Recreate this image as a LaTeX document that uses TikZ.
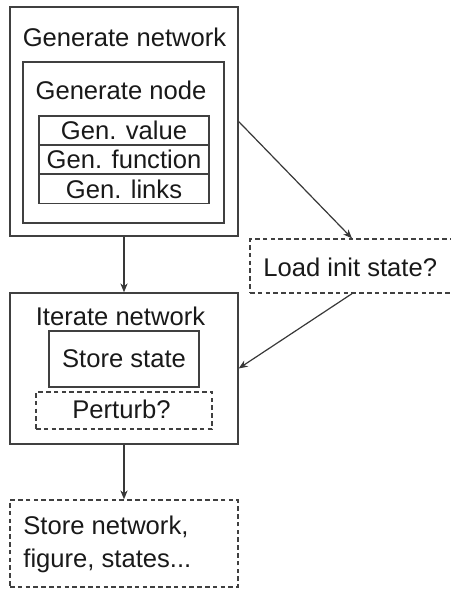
\documentclass[tikz,border=0pt]{standalone}
\usepackage{fontspec}
\setmainfont{Liberation Sans}
\usetikzlibrary{arrows.meta}

\begin{document}
\begin{tikzpicture}[
  x=0.5pt, y=-0.5pt,
  box/.style={rectangle, draw=black!75, line width=0.65pt, inner sep=0pt,
              text=black!90, font=\fontsize{12.8}{16}\selectfont},
  dbox/.style={box, dash pattern=on 2.3pt off 1.6pt},
  lbl/.style={inner sep=0pt, text=black!90, font=\fontsize{12.8}{16.3}\selectfont},
  arr/.style={-{Stealth[length=4.5pt, width=3.6pt]}, line width=0.6pt, black!78},
]
  \useasboundingbox (0,0) rectangle (450,589);

  % network generation
  \node[box, minimum width=114pt, minimum height=114.5pt] (net) at (124, 121.5) {};
  \node[lbl] (nettitle) at (124.5, 37) {Generate network};
  \node[box, minimum width=100.5pt, minimum height=80.5pt] (gnode) at (123.5, 142.5) {};
  \node[lbl] (gnodetitle) at (121, 90) {Generate node};
  \node[box, minimum width=85pt, minimum height=14.5pt] (val) at (124, 130.5) {Gen. value};
  \node[box, minimum width=85pt, minimum height=14.5pt] (fun) at (124, 159.5) {Gen. function};
  \node[box, minimum width=85pt, minimum height=14.5pt] (lnk) at (124, 189)   {Gen. links};

  % optional initial state
  \node[dbox, minimum width=102pt, minimum height=27pt] (load) at (352, 266) {};
  \node[lbl, anchor=west] (loadtext) at (263, 267) {Load init state?};

  % iteration
  \node[box, minimum width=114pt, minimum height=75.5pt] (iter) at (124, 368.5) {};
  \node[lbl] (itertitle) at (120.5, 316) {Iterate network};
  \node[box, minimum width=75pt, minimum height=28pt] (store) at (124, 359) {Store state};
  \node[dbox, minimum width=88pt, minimum height=18.5pt] (pert) at (124, 410.5) {};
  \node[lbl] (perttext) at (121.5, 409) {Perturb?};

  % output
  \node[dbox, minimum width=114pt, minimum height=43.5pt] (out) at (124, 543.5) {};
  \node[lbl, anchor=north west, align=left] (outtext) at (23, 516)
    {Store network,\\figure, states...};

  \draw[arr] (net.south) -- (iter.north);
  \draw[arr] (net.east) -- (load.north);
  \draw[arr] (load.south) -- (iter.east);
  \draw[arr] (iter.south) -- (out.north);
\end{tikzpicture}
\end{document}
